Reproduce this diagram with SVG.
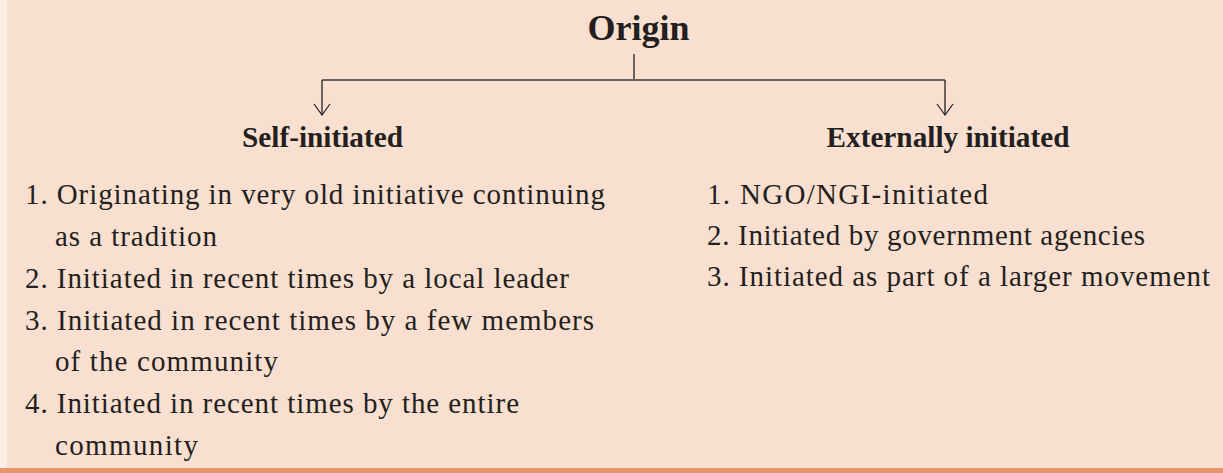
<svg xmlns="http://www.w3.org/2000/svg" width="1223" height="473" viewBox="0 0 1223 473">
<style>
.t{font-family:"Liberation Serif","Times New Roman",serif;fill:#231f20;font-size:29px}
.h{font-family:"Liberation Serif","Times New Roman",serif;fill:#231f20;font-weight:bold;text-anchor:middle}
.c{stroke:#231f20;stroke-width:1.3;fill:none}
</style>
<defs>
<marker id="arr" markerWidth="20" markerHeight="14" refX="9" refY="12" orient="0" markerUnits="userSpaceOnUse">
<path d="M1,1 L9,12 L17,1" fill="none" stroke="#231f20" stroke-width="1.2"/>
</marker>
</defs>
<rect x="0" y="0" width="1223" height="473" fill="#f9dfcf"/>
<rect x="0" y="0" width="7" height="473" fill="#fbeee7"/>
<rect x="0" y="468" width="1223" height="5" fill="#e8956b"/>
<g id="connectors">
<path class="c" d="M634,54 V80"/>
<path d="M322,80 H945" stroke="#6d6360" stroke-width="2.2" fill="none"/>
<path class="c" d="M322,80 V115" marker-end="url(#arr)"/>
<path class="c" d="M945,80 V115" marker-end="url(#arr)"/>
</g>
<g id="origin"><text class="h" x="638.5" y="40" font-size="36">Origin</text></g>
<g id="self">
<text class="h" x="322.5" y="147" font-size="29" textLength="161" lengthAdjust="spacingAndGlyphs">Self-initiated</text>
<text class="t" x="25" y="204" textLength="580">1. Originating in very old initiative continuing</text>
<text class="t" x="55" y="246" textLength="162">as a tradition</text>
<text class="t" x="25" y="288" textLength="544">2. Initiated in recent times by a local leader</text>
<text class="t" x="25" y="330" textLength="569">3. Initiated in recent times by a few members</text>
<text class="t" x="55" y="371" textLength="223">of the community</text>
<text class="t" x="25" y="413" textLength="494">4. Initiated in recent times by the entire</text>
<text class="t" x="55" y="455" textLength="143">community</text>
</g>
<g id="external">
<text class="h" x="948" y="147" font-size="29" textLength="243" lengthAdjust="spacingAndGlyphs">Externally initiated</text>
<text class="t" x="707" y="204" textLength="281">1. NGO/NGI-initiated</text>
<text class="t" x="707" y="245" textLength="438">2. Initiated by government agencies</text>
<text class="t" x="707" y="286" textLength="503">3. Initiated as part of a larger movement</text>
</g>
</svg>
